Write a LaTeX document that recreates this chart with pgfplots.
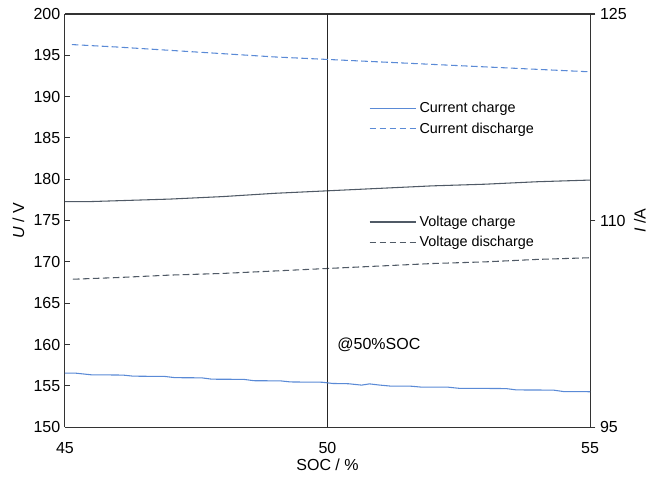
\documentclass[border=0pt]{standalone}
\usepackage{fontspec}
\setmainfont{Liberation Sans}
\usepackage{pgfplots}
\pgfplotsset{compat=1.18}
\definecolor{cblue}{RGB}{90,138,214}
\definecolor{vgray}{RGB}{80,90,102}
\begin{document}
\begin{tikzpicture}
\useasboundingbox (-48.75pt,-39pt) rectangle (437.5pt,320.5pt);
\pgfplotsset{every axis/.style={
  at={(0pt,0pt)}, anchor=south west,
  width=394pt, height=310pt, scale only axis,
  xmin=45, xmax=55, xtick={45,50,55},
  font=\fontsize{12pt}{14pt}\selectfont,
  tick label style={font=\fontsize{12pt}{14pt}\selectfont},
  /pgf/number format/assume math mode=true,
  axis line style={black!80, line width=0.8pt},
  tick style={black!80, line width=0.8pt},
  major tick length=4pt,
}}
\begin{axis}[name=ax,
  axis y line*=left, axis x line*=box,
  ymin=150, ymax=200, ytick={150,155,...,200},
  xtick pos=bottom, xtick style={draw=none},
  tick align=inside,
  xticklabel shift=8pt,
  xlabel={SOC / \%}, ylabel={\textit{U} / V},
  xlabel style={at={(0.5,0)}, anchor=center, yshift=-28.5pt},
  ylabel style={at={(0,0.5)}, anchor=center, rotate=0, yshift=35pt},
  legend style={draw=none, fill=none, at={(0.571,0.525)}, anchor=north west, font=\fontsize{10.8pt}{13pt}\selectfont, row sep=2pt},
  legend cell align=left,
  legend image code/.code={\draw[#1, line width=0.9pt] (0pt,0pt) -- (35pt,0pt);},
]
\addplot[vgray, line width=0.8pt] coordinates {
(45,177.3)(45.5,177.3)(46,177.4)(47,177.6)(48,177.9)(49,178.3)(50,178.6)(51,178.9)(52,179.2)(53,179.4)(54,179.7)(55,179.9)};
\addlegendentry{Voltage charge}
\addplot[vgray, line width=0.8pt, dash pattern=on 5pt off 2.5pt] coordinates {
(45.15,167.9)(46,168.1)(47,168.4)(48,168.6)(49,168.9)(50,169.2)(51,169.5)(52,169.8)(53,170.0)(54,170.3)(55,170.5)};
\addlegendentry{Voltage discharge}
\draw[black!85, line width=0.9pt] (axis cs:50,150) -- (axis cs:50,200);
\node[anchor=west, font=\fontsize{12pt}{14pt}\selectfont] at (axis cs:50.1,160) {@50\%SOC};
\end{axis}
\begin{axis}[
  axis y line*=right, axis x line=none,
  ymin=95, ymax=125, ytick={95,110,125},
  tick align=outside,
  ylabel={\textit{I} /A},
  ylabel style={at={(1,0.5)}, anchor=center, yshift=-37.5pt},
  legend style={draw=none, fill=none, at={(0.571,0.80)}, anchor=north west, font=\fontsize{10.8pt}{13pt}\selectfont, row sep=2pt},
  legend cell align=left,
  legend image code/.code={\draw[#1, line width=0.9pt] (0pt,0pt) -- (35pt,0pt);},
]
\addplot[cblue, line width=0.8pt] coordinates {
(45,98.92)(45.2,98.92)(45.5,98.80)(46.1,98.78)(46.3,98.70)(46.9,98.68)(47.1,98.59)(47.6,98.58)(47.8,98.48)(48.4,98.47)(48.6,98.37)(49.1,98.36)(49.3,98.28)(49.9,98.26)(50.1,98.17)(50.4,98.15)(50.65,98.05)(50.8,98.14)(51.0,98.05)(51.2,97.98)(51.6,97.97)(51.8,97.90)(52.3,97.90)(52.5,97.82)(53.4,97.80)(53.6,97.70)(54.3,97.69)(54.5,97.58)(55,97.57)};
\addlegendentry{Current charge}
\addplot[cblue, line width=0.8pt, dash pattern=on 5pt off 2.5pt] coordinates {
(45.13,122.78)(46,122.6)(47,122.36)(48,122.12)(49,121.88)(50,121.7)(51,121.52)(52,121.34)(53,121.16)(54,120.98)(55,120.8)};
\addlegendentry{Current discharge}
\end{axis}
\end{tikzpicture}
\end{document}
